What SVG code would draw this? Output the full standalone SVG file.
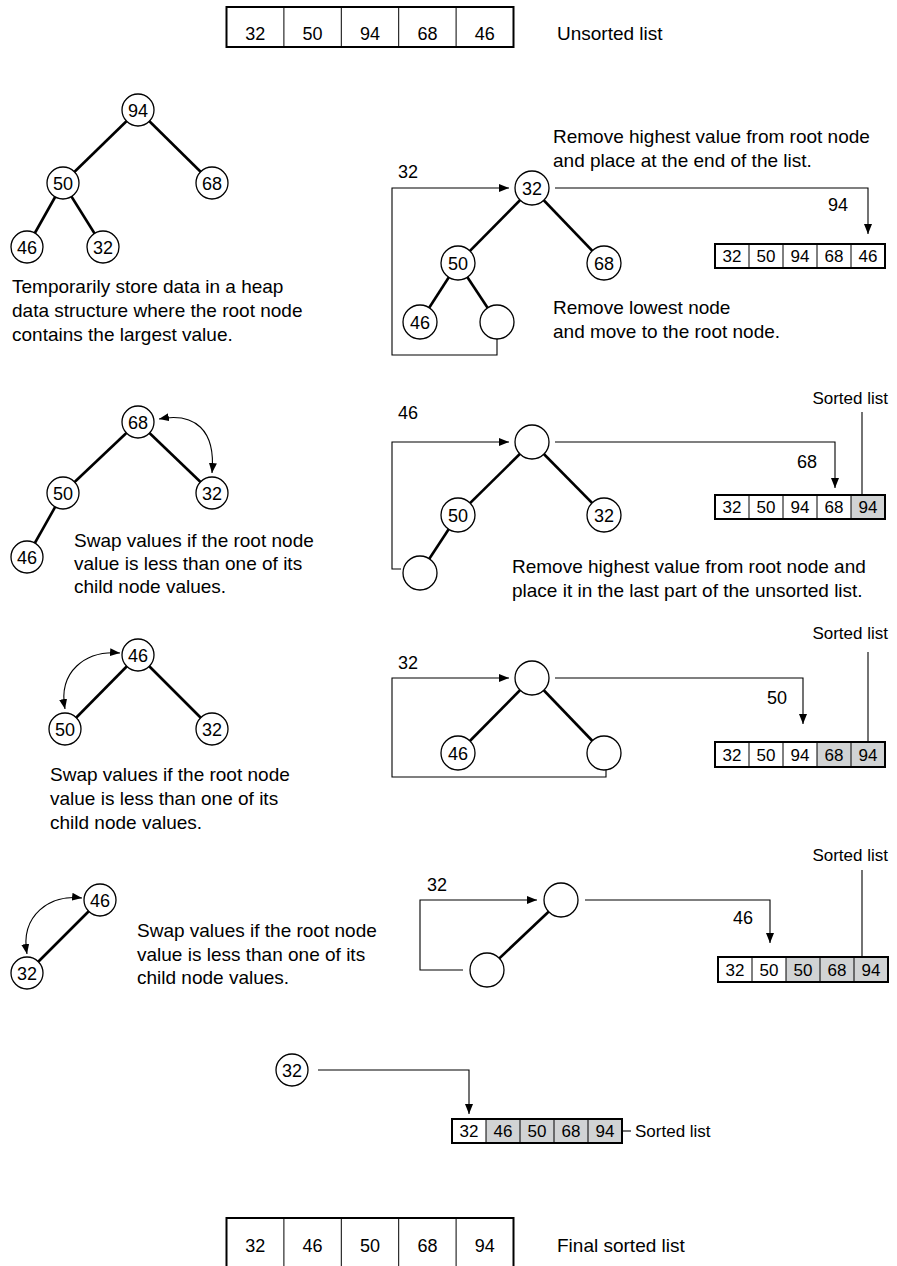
<svg xmlns="http://www.w3.org/2000/svg" width="897" height="1266" viewBox="0 0 897 1266">
<style>
text{font-family:"Liberation Sans",Arial,sans-serif;fill:#000}
.body{font-size:19px}
.num{font-size:18px;text-anchor:middle}
.cell{font-size:17px;text-anchor:middle}
.big{font-size:18px;text-anchor:middle}
.lbl{font-size:18px}
.sl{font-size:17px}
.nd{fill:#fff;stroke:#000;stroke-width:1.3}
.edge{stroke:#000;stroke-width:2.6;fill:none}
.conn{stroke:#000;stroke-width:1.1;fill:none}
.arr{marker-end:url(#ah)}
.dbl{marker-end:url(#ah);marker-start:url(#ah)}
.box{fill:none;stroke:#000;stroke-width:2}
.div{stroke:#000;stroke-width:1}
.g{fill:#d1d3d4}
</style>
<defs>
<marker id="ah" markerUnits="userSpaceOnUse" markerWidth="10" markerHeight="8" refX="10" refY="4" orient="auto-start-reverse"><path d="M0,0 L10,4 L0,8 z" fill="#000"/></marker>
</defs>

<g id="connectors">
<!-- section 1 left -->
<line class="edge" x1="138" y1="110" x2="63" y2="183"/>
<line class="edge" x1="138" y1="110" x2="212" y2="183"/>
<line class="edge" x1="63" y1="183" x2="27" y2="247"/>
<line class="edge" x1="63" y1="183" x2="103" y2="247"/>
<!-- section 1 right -->
<line class="edge" x1="532" y1="188" x2="458" y2="263"/>
<line class="edge" x1="532" y1="188" x2="604" y2="263"/>
<line class="edge" x1="458" y1="263" x2="420" y2="322"/>
<line class="edge" x1="458" y1="263" x2="497" y2="322"/>
<path class="conn arr" d="M497,339 V355 H392 V188 H509"/>
<path class="conn arr" d="M555,188 H868 V234"/>
<!-- section 2 left -->
<line class="edge" x1="138" y1="422" x2="63" y2="493"/>
<line class="edge" x1="138" y1="422" x2="212" y2="493"/>
<line class="edge" x1="63" y1="493" x2="27" y2="557"/>
<path class="conn dbl" d="M159,419 C195,412 216,430 212,473"/>
<!-- section 2 right -->
<line class="edge" x1="532" y1="442" x2="458" y2="515"/>
<line class="edge" x1="532" y1="442" x2="604" y2="515"/>
<line class="edge" x1="458" y1="515" x2="420" y2="573"/>
<path class="conn arr" d="M401,569 H392 V442 H509"/>
<path class="conn arr" d="M555,442 H835 V488"/>
<line class="conn" x1="862" y1="412" x2="862" y2="495"/>
<!-- section 3 left -->
<line class="edge" x1="138" y1="655" x2="65" y2="729"/>
<line class="edge" x1="138" y1="655" x2="212" y2="729"/>
<path class="conn dbl" d="M120,653 C85,650 58,672 65,709"/>
<!-- section 3 right -->
<line class="edge" x1="532" y1="678" x2="458" y2="753"/>
<line class="edge" x1="532" y1="678" x2="604" y2="753"/>
<path class="conn arr" d="M606,770 V777 H392 V678 H509"/>
<path class="conn arr" d="M555,678 H803 V724"/>
<line class="conn" x1="868" y1="652" x2="868" y2="742"/>
<!-- section 4 left -->
<line class="edge" x1="100" y1="900" x2="27" y2="973"/>
<path class="conn dbl" d="M82,898 C50,894 20,915 27,954"/>
<!-- section 4 right -->
<line class="edge" x1="561" y1="900" x2="487" y2="970"/>
<path class="conn arr" d="M463,970 H420 V900 H537"/>
<path class="conn arr" d="M585,900 H770 V943"/>
<line class="conn" x1="862" y1="870" x2="862" y2="957"/>
<!-- section 5 -->
<path class="conn arr" d="M318,1070 H469 V1114"/>
<line class="conn" x1="623" y1="1131" x2="631" y2="1131"/>
</g>

<g id="unsorted-list">
<rect class="box" x="226.5" y="7" width="287" height="40"/>
<line class="div" x1="283.9" y1="7" x2="283.9" y2="47"/>
<line class="div" x1="341.3" y1="7" x2="341.3" y2="47"/>
<line class="div" x1="398.7" y1="7" x2="398.7" y2="47"/>
<line class="div" x1="456.1" y1="7" x2="456.1" y2="47"/>
<text class="big" x="255.2" y="40">32</text>
<text class="big" x="312.6" y="40">50</text>
<text class="big" x="370" y="40">94</text>
<text class="big" x="427.4" y="40">68</text>
<text class="big" x="484.8" y="40">46</text>
<text class="body" x="557" y="40">Unsorted list</text>
</g>

<g id="s1-left">
<g id="n1-94"><circle class="nd" cx="138" cy="110" r="16"/><text class="num" x="138" y="116.5">94</text></g>
<g id="n1-50"><circle class="nd" cx="63" cy="183" r="16"/><text class="num" x="63" y="189.5">50</text></g>
<g id="n1-68"><circle class="nd" cx="212" cy="183" r="16"/><text class="num" x="212" y="189.5">68</text></g>
<g id="n1-46"><circle class="nd" cx="27" cy="247" r="16"/><text class="num" x="27" y="253.5">46</text></g>
<g id="n1-32"><circle class="nd" cx="103" cy="247" r="16"/><text class="num" x="103" y="253.5">32</text></g>
<text class="body" x="12" y="293">Temporarily store data in a heap</text>
<text class="body" x="12" y="317">data structure where the root node</text>
<text class="body" x="12" y="341">contains the largest value.</text>
</g>

<g id="s1-right">
<g id="n1r-root"><circle class="nd" cx="532" cy="188" r="17"/><text class="num" x="532" y="194.5">32</text></g>
<g id="n1r-50"><circle class="nd" cx="458" cy="263" r="17"/><text class="num" x="458" y="269.5">50</text></g>
<g id="n1r-68"><circle class="nd" cx="604" cy="263" r="17"/><text class="num" x="604" y="269.5">68</text></g>
<g id="n1r-46"><circle class="nd" cx="420" cy="322" r="17"/><text class="num" x="420" y="328.5">46</text></g>
<g id="n1r-empty"><circle class="nd" cx="497" cy="322" r="17"/></g>
<text class="lbl" x="398" y="178">32</text>
<text class="lbl" x="828" y="211">94</text>
<g id="list1">
<rect x="715" y="244" width="170" height="24" fill="#fff"/>
<line class="div" x1="749" y1="244" x2="749" y2="268"/>
<line class="div" x1="783" y1="244" x2="783" y2="268"/>
<line class="div" x1="817" y1="244" x2="817" y2="268"/>
<line class="div" x1="851" y1="244" x2="851" y2="268"/>
<rect class="box" x="715" y="244" width="170" height="24"/>
<text class="cell" x="732" y="262">32</text><text class="cell" x="766" y="262">50</text><text class="cell" x="800" y="262">94</text><text class="cell" x="834" y="262">68</text><text class="cell" x="868" y="262">46</text>
</g>
<text class="body" x="553" y="143">Remove highest value from root node</text>
<text class="body" x="553" y="167">and place at the end of the list.</text>
<text class="body" x="553" y="314">Remove lowest node</text>
<text class="body" x="553" y="338">and move to the root node.</text>
</g>

<g id="s2-left">
<g id="n2-68"><circle class="nd" cx="138" cy="422" r="16"/><text class="num" x="138" y="428.5">68</text></g>
<g id="n2-50"><circle class="nd" cx="63" cy="493" r="16"/><text class="num" x="63" y="499.5">50</text></g>
<g id="n2-32"><circle class="nd" cx="212" cy="493" r="16"/><text class="num" x="212" y="499.5">32</text></g>
<g id="n2-46"><circle class="nd" cx="27" cy="557" r="16"/><text class="num" x="27" y="563.5">46</text></g>
<text class="body" x="74" y="547">Swap values if the root node</text>
<text class="body" x="74" y="570">value is less than one of its</text>
<text class="body" x="74" y="593">child node values.</text>
</g>

<g id="s2-right">
<g id="n2r-root"><circle class="nd" cx="532" cy="442" r="17"/></g>
<g id="n2r-50"><circle class="nd" cx="458" cy="515" r="17"/><text class="num" x="458" y="521.5">50</text></g>
<g id="n2r-32"><circle class="nd" cx="604" cy="515" r="17"/><text class="num" x="604" y="521.5">32</text></g>
<g id="n2r-empty"><circle class="nd" cx="420" cy="573" r="17"/></g>
<text class="lbl" x="398" y="419">46</text>
<text class="lbl" x="797" y="468">68</text>
<text class="sl" x="888" y="404" text-anchor="end">Sorted list</text>
<g id="list2">
<rect x="715" y="495" width="170" height="24" fill="#fff"/>
<rect class="g" x="851" y="495" width="34" height="24"/>
<line class="div" x1="749" y1="495" x2="749" y2="519"/>
<line class="div" x1="783" y1="495" x2="783" y2="519"/>
<line class="div" x1="817" y1="495" x2="817" y2="519"/>
<line class="div" x1="851" y1="495" x2="851" y2="519"/>
<rect class="box" x="715" y="495" width="170" height="24"/>
<text class="cell" x="732" y="513">32</text><text class="cell" x="766" y="513">50</text><text class="cell" x="800" y="513">94</text><text class="cell" x="834" y="513">68</text><text class="cell" x="868" y="513">94</text>
</g>
<text class="body" x="512" y="573">Remove highest value from root node and</text>
<text class="body" x="512" y="597">place it in the last part of the unsorted list.</text>
</g>

<g id="s3-left">
<g id="n3-46"><circle class="nd" cx="138" cy="655" r="16"/><text class="num" x="138" y="661.5">46</text></g>
<g id="n3-50"><circle class="nd" cx="65" cy="729" r="16"/><text class="num" x="65" y="735.5">50</text></g>
<g id="n3-32"><circle class="nd" cx="212" cy="729" r="16"/><text class="num" x="212" y="735.5">32</text></g>
<text class="body" x="50" y="781">Swap values if the root node</text>
<text class="body" x="50" y="805">value is less than one of its</text>
<text class="body" x="50" y="829">child node values.</text>
</g>

<g id="s3-right">
<g id="n3r-root"><circle class="nd" cx="532" cy="678" r="17"/></g>
<g id="n3r-46"><circle class="nd" cx="458" cy="753" r="17"/><text class="num" x="458" y="759.5">46</text></g>
<g id="n3r-empty"><circle class="nd" cx="604" cy="753" r="17"/></g>
<text class="lbl" x="398" y="669">32</text>
<text class="lbl" x="767" y="704">50</text>
<text class="sl" x="888" y="639" text-anchor="end">Sorted list</text>
<g id="list3">
<rect x="715" y="742" width="170" height="25" fill="#fff"/>
<rect class="g" x="817" y="742" width="68" height="25"/>
<line class="div" x1="749" y1="742" x2="749" y2="767"/>
<line class="div" x1="783" y1="742" x2="783" y2="767"/>
<line class="div" x1="817" y1="742" x2="817" y2="767"/>
<line class="div" x1="851" y1="742" x2="851" y2="767"/>
<rect class="box" x="715" y="742" width="170" height="25"/>
<text class="cell" x="732" y="760.5">32</text><text class="cell" x="766" y="760.5">50</text><text class="cell" x="800" y="760.5">94</text><text class="cell" x="834" y="760.5">68</text><text class="cell" x="868" y="760.5">94</text>
</g>
</g>

<g id="s4-left">
<g id="n4-46"><circle class="nd" cx="100" cy="900" r="16"/><text class="num" x="100" y="906.5">46</text></g>
<g id="n4-32"><circle class="nd" cx="27" cy="973" r="16"/><text class="num" x="27" y="979.5">32</text></g>
<text class="body" x="137" y="937">Swap values if the root node</text>
<text class="body" x="137" y="961">value is less than one of its</text>
<text class="body" x="137" y="984">child node values.</text>
</g>

<g id="s4-right">
<g id="n4r-root"><circle class="nd" cx="561" cy="900" r="17"/></g>
<g id="n4r-empty"><circle class="nd" cx="487" cy="970" r="17"/></g>
<text class="lbl" x="427" y="891">32</text>
<text class="lbl" x="733" y="924">46</text>
<text class="sl" x="888" y="861" text-anchor="end">Sorted list</text>
<g id="list4">
<rect x="718" y="957" width="170" height="25" fill="#fff"/>
<rect class="g" x="786" y="957" width="102" height="25"/>
<line class="div" x1="752" y1="957" x2="752" y2="982"/>
<line class="div" x1="786" y1="957" x2="786" y2="982"/>
<line class="div" x1="820" y1="957" x2="820" y2="982"/>
<line class="div" x1="854" y1="957" x2="854" y2="982"/>
<rect class="box" x="718" y="957" width="170" height="25"/>
<text class="cell" x="735" y="975.5">32</text><text class="cell" x="769" y="975.5">50</text><text class="cell" x="803" y="975.5">50</text><text class="cell" x="837" y="975.5">68</text><text class="cell" x="871" y="975.5">94</text>
</g>
</g>

<g id="s5">
<g id="n5-32"><circle class="nd" cx="292" cy="1070" r="16"/><text class="num" x="292" y="1076.5">32</text></g>
<g id="list5">
<rect x="452" y="1119" width="170" height="24" fill="#fff"/>
<rect class="g" x="486" y="1119" width="136" height="24"/>
<line class="div" x1="486" y1="1119" x2="486" y2="1143"/>
<line class="div" x1="520" y1="1119" x2="520" y2="1143"/>
<line class="div" x1="554" y1="1119" x2="554" y2="1143"/>
<line class="div" x1="588" y1="1119" x2="588" y2="1143"/>
<rect class="box" x="452" y="1119" width="170" height="24"/>
<text class="cell" x="469" y="1137">32</text><text class="cell" x="503" y="1137">46</text><text class="cell" x="537" y="1137">50</text><text class="cell" x="571" y="1137">68</text><text class="cell" x="605" y="1137">94</text>
</g>
<text class="sl" x="635" y="1137">Sorted list</text>
</g>

<g id="final-list">
<rect class="box" x="226.5" y="1218" width="287" height="60"/>
<line class="div" x1="283.9" y1="1218" x2="283.9" y2="1266"/>
<line class="div" x1="341.3" y1="1218" x2="341.3" y2="1266"/>
<line class="div" x1="398.7" y1="1218" x2="398.7" y2="1266"/>
<line class="div" x1="456.1" y1="1218" x2="456.1" y2="1266"/>
<text class="big" x="255.2" y="1252">32</text>
<text class="big" x="312.6" y="1252">46</text>
<text class="big" x="370" y="1252">50</text>
<text class="big" x="427.4" y="1252">68</text>
<text class="big" x="484.8" y="1252">94</text>
<text class="body" x="557" y="1252">Final sorted list</text>
</g>
</svg>
